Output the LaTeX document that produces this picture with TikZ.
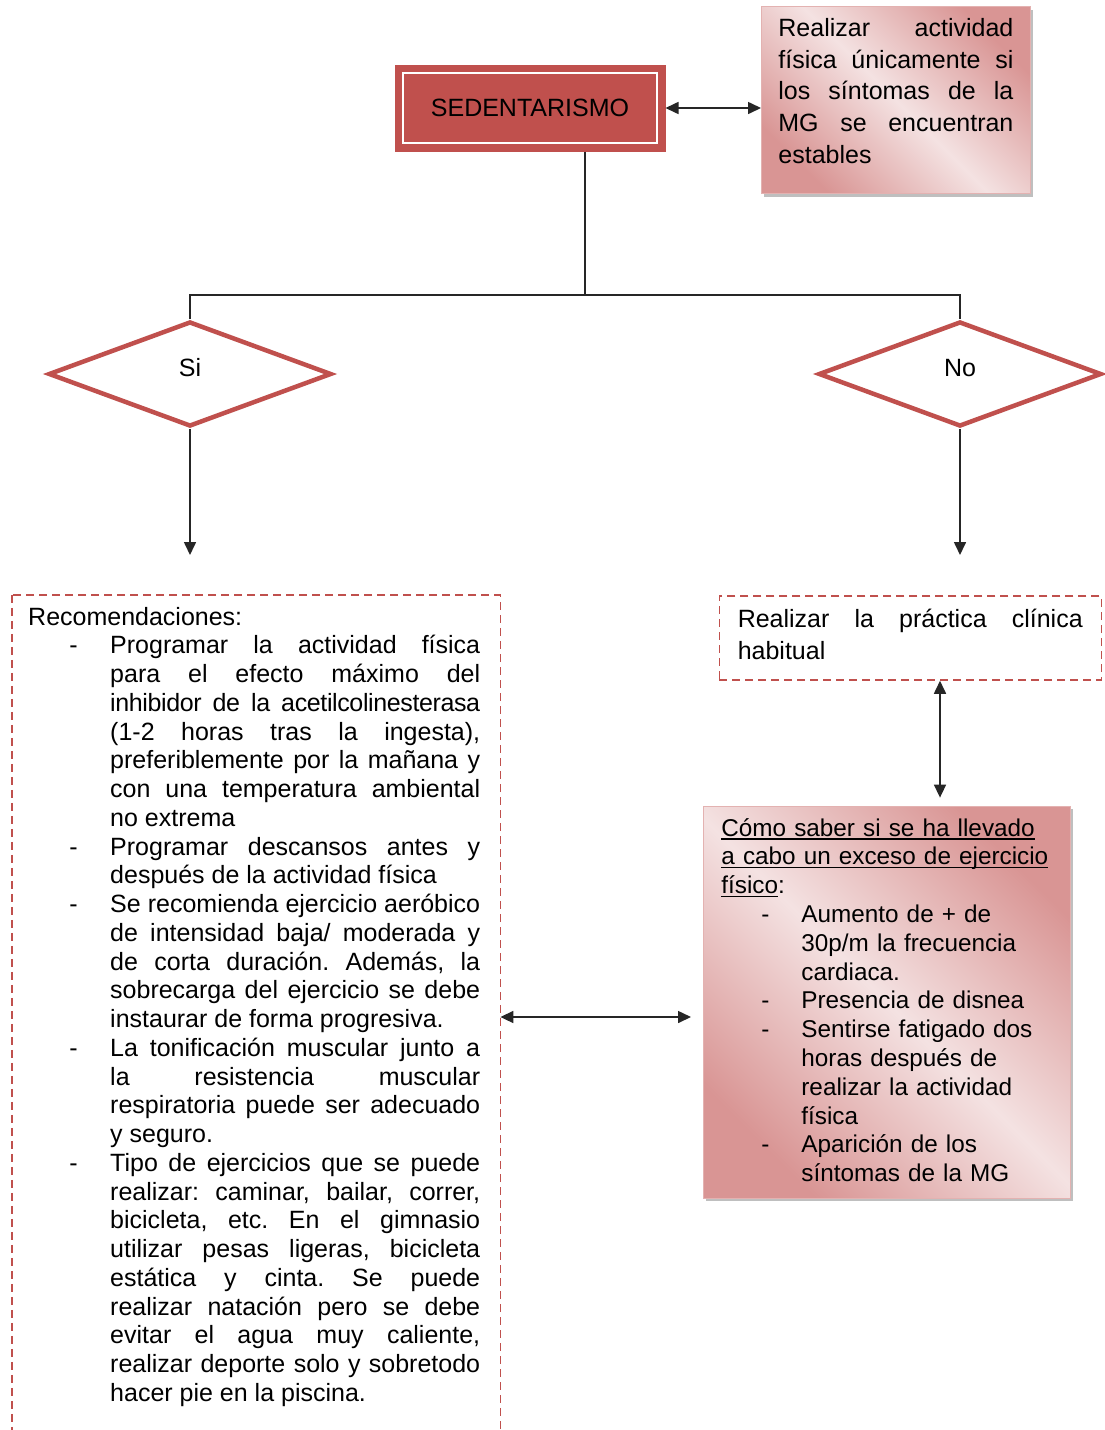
\documentclass[tikz,border=0pt]{standalone}
\usepackage{fontspec}
\setmainfont{Liberation Sans}
\usetikzlibrary{positioning,shapes.geometric,arrows.meta,shadows}
\definecolor{rojo}{HTML}{C0504D}
\definecolor{rosaosc}{HTML}{D99594}
\definecolor{rosacl}{HTML}{F4E2E2}
\definecolor{rosaborde}{HTML}{E3B2B1}
\newlength\anchosub
\newcommand{\subr}[1]{\leavevmode\settowidth{\anchosub}{#1}\rlap{\rule[-3.5pt]{\anchosub}{1.3pt}}\mbox{#1}}
\newcommand{\letra}{\fontsize{25}{28.75}\selectfont}
\newenvironment{guiones}[3]{\begin{list}{-}{\setlength{\leftmargin}{#1}\setlength{\labelsep}{#2}\setlength{\rightmargin}{#3}%
  \setlength{\labelwidth}{10pt}\setlength{\itemsep}{0pt}\setlength{\topsep}{0pt}\setlength{\parsep}{0pt}\setlength{\partopsep}{0pt}}}{\end{list}}
\tikzset{caja/.style={rectangle,fill=rojo,draw=rojo,double=white,double distance=2pt,line width=7.5pt,
          minimum width=254pt,minimum height=70pt,outer sep=8.5pt,font=\letra},
	 decision/.style={diamond,draw=rojo,line width=4.5pt,fill=white,minimum width=283pt,minimum height=105pt,
	  inner sep=0pt,text height=18pt,text depth=14pt,font=\letra},
	 parrafo/.style={align=justify,anchor=base west,text height=18pt,
	  execute at begin node={\tolerance=10000\hbadness=10000\hyphenpenalty=10000\frenchspacing}},
	 nota/.style={parrafo,rectangle,draw=rosaborde,line width=0.8pt,top color=rosaosc,bottom color=rosaosc,
	  middle color=rosacl,shading angle=-45,inner ysep=12pt,
	  drop shadow={shadow xshift=3pt,shadow yshift=-3pt,fill=black!50,opacity=.5}},
	 discont/.style={draw=rojo,dash pattern=on 8pt off 5pt,line width=1.5pt},
	 linea/.style={line width=1.6pt,black!85},
	 >={Triangle[length=13pt,width=12pt]}
	 }
\begin{document}
\begin{tikzpicture}[x=1pt,y=-1pt]
	\path[use as bounding box,fill=white] (0,0) rectangle (1104,1430);

	\node[caja] (sed) at (530,108) {SEDENTARISMO};
	\node[nota,text width=235pt,inner xsep=17pt,text depth=145pt,font=\fontsize{25}{31.6}\selectfont] (estable) at (761,36.7)
	  {Realizar actividad\linebreak física únicamente si\linebreak los síntomas de la\linebreak MG se encuentran\linebreak estables};

	\node[decision] (si) at (190,374) {Si};
	\node[decision] (no) at (960,374) {No};
	\coordinate (split) at (585,295);
	\coordinate (sifin) at (190,555); \coordinate (nofin) at (960,555);

	\node[parrafo,text width=456pt,inner xsep=16pt,inner ysep=12pt,font=\letra] (rec) at (12,625)
	  {Recomendaciones:
	  \begin{guiones}{82pt}{32.5pt}{4pt}
	  \item Programar la actividad física\linebreak para el efecto máximo del\linebreak
	   {\addfontfeatures{LetterSpace=-1.5}inhibidor de la acetilcolinesterasa}\linebreak (1-2 horas tras la ingesta),\linebreak
	   preferiblemente por la mañana y\linebreak con una temperatura ambiental\linebreak no extrema
	  \item Programar descansos antes y\linebreak después de la actividad física
	  \item Se recomienda ejercicio aeróbico\linebreak de intensidad baja/ moderada y\linebreak de corta duración. Además, la\linebreak
	   sobrecarga del ejercicio se debe\linebreak instaurar de forma progresiva.
	  \item La tonificación muscular junto a\linebreak la resistencia muscular\linebreak respiratoria puede ser adecuado\linebreak y seguro.
	  \item Tipo de ejercicios que se puede\linebreak realizar: caminar, bailar, correr,\linebreak bicicleta, etc. En el gimnasio\linebreak
	   utilizar pesas ligeras, bicicleta\linebreak estática y cinta. Se puede\linebreak realizar natación pero se debe\linebreak
	   evitar el agua muy caliente,\linebreak realizar deporte solo y sobretodo\linebreak hacer pie en la piscina.
	  \end{guiones}};
	\coordinate (fondo) at (0,1450);
	\draw[discont] (rec.north west) rectangle (rec.east |- fondo);

	\node[parrafo,discont,text width=345pt,inner xsep=18.5pt,inner ysep=13pt,text depth=40pt,font=\fontsize{25}{32.6}\selectfont] (hab) at (718.5,627)
	  {Realizar la práctica clínica\linebreak habitual};

	\node[nota,align=left,text width=331pt,inner xsep=18pt,text depth=350pt,font=\fontsize{24.3}{28.8}\selectfont] (exceso) at (703,836)
	  {\subr{Cómo saber si se ha llevado}\\ \subr{a cabo un exceso de ejercicio}\\ \subr{físico}:
	  \begin{guiones}{80pt}{32pt}{0pt}
	  \item Aumento de + de\\ 30p/m la frecuencia\\ cardiaca.
	  \item Presencia de disnea
	  \item Sentirse fatigado dos\\ horas después de\\ realizar la actividad\\ física
	  \item Aparición de los\\ síntomas de la MG
	  \end{guiones}};

	\draw[linea,<->] (sed.east) to (sed.east -| estable.west);
	\draw[linea] (split |- sed.south) to (split);
	\draw[linea] (si.north) |- (split) -| (no.north);
	\draw[linea,->] (si) to (sifin); \draw[linea,->] (no) to (nofin);

	\coordinate (vmid) at (940,0); \coordinate (hmid) at (0,1017);
	\draw[linea,<->,shorten >=8pt] (hab.south -| vmid) to (exceso.north -| vmid);
	\draw[linea,<->,shorten >=12pt] (rec.east |- hmid) to (exceso.west |- hmid);
\end{tikzpicture}
\end{document}
